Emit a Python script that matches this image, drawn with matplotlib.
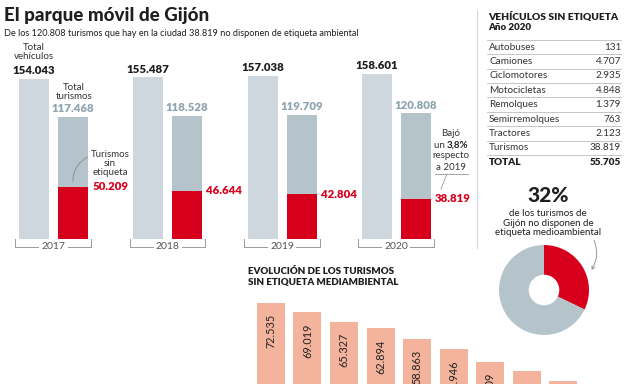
import matplotlib
matplotlib.use("Agg")
import matplotlib.pyplot as plt
from matplotlib.patches import FancyArrowPatch

plt.rcParams['font.family'] = ['Lato', 'DejaVu Sans']

# ---------------- data ----------------
years = ["2017", "2018", "2019", "2020"]
total_vehiculos = [154043, 155487, 157038, 158601]
total_turismos = [117468, 118528, 119709, 120808]
turismos_sin = [50209, 46644, 42804, 38819]

tabla_tipos = ["Autobuses", "Camiones", "Ciclomotores", "Motocicletas", "Remolques",
               "Semirremolques", "Tractores", "Turismos"]
tabla_valores = [131, 4707, 2935, 4848, 1379, 763, 2123, 38819]
tabla_total = 55705

donut_values = [38819, 120808 - 38819]

evol_years = ["2011", "2012", "2013", "2014", "2015", "2016", "2017", "2018", "2019"]
evol_values = [72535, 69019, 65327, 62894, 58863, 54946, 50209, 46644, 42804]

# ---------------- style ----------------
C_TOT = "#cdd7dd"
C_TUR = "#b5c3cb"
C_RED = "#d6001c"
C_SAL = "#f3b39d"
C_GRAYTXT = "#8da3b0"
C_DARK = "#1e1e1e"
C_TXT = "#333333"
C_LINE = "#bdbdbd"

W, H = 624, 384
fig = plt.figure(figsize=(W / 100, H / 100), dpi=100)
fig.patch.set_facecolor("white")


def rect(x0, ytop, w, h):
    return [x0 / W, 1 - (ytop + h) / H, w / W, h / H]


def fmt(v):
    return f"{v:,}".replace(",", ".")


# overlay axes in pixel coordinates for free text
bg = fig.add_axes([0, 0, 1, 1])
bg.set_xlim(0, W)
bg.set_ylim(H, 0)
bg.axis("off")
bg.set_zorder(5)
bg.patch.set_visible(False)

# ---------------- top bar chart ----------------
ax1 = fig.add_axes(rect(0, 52, 457, 201.5))
ax1.set_xlim(-0.468, 3.53)
ax1.set_ylim(-14000, 180000)
ax1.axis("off")
off = 0.17
bw = 0.2625
xs = list(range(len(years)))
ax1.bar([x - off for x in xs], total_vehiculos, width=bw, color=C_TOT, linewidth=0)
ax1.bar([x + off for x in xs], total_turismos, width=bw, color=C_TUR, linewidth=0)
ax1.bar([x + off for x in xs], turismos_sin, width=bw, color=C_RED, linewidth=0)

for i, x in enumerate(xs):
    ax1.annotate(fmt(total_vehiculos[i]), (x - off, total_vehiculos[i]), xytext=(0, 2),
                 textcoords="offset points", ha="center", va="bottom",
                 fontsize=8.2, fontweight="heavy", color=C_DARK)
    ax1.annotate(fmt(total_turismos[i]), (x + off, total_turismos[i]), xytext=(0, 2),
                 textcoords="offset points", ha="center", va="bottom",
                 fontsize=8.2, fontweight="heavy", color=C_GRAYTXT)
    ax1.annotate(fmt(turismos_sin[i]), (x + off + bw / 2, turismos_sin[i]), xytext=(3, 0),
                 textcoords="offset points", ha="left", va="center",
                 fontsize=8.2, fontweight="heavy", color=C_RED)
    # year bracket
    yb = -7700
    ax1.plot([x - 0.333, x - 0.333, x + 0.328, x + 0.328], [0, yb, yb, 0],
             color="#9a9a9a", lw=0.7, clip_on=False)
    ax1.text(x, yb, years[i], ha="center", va="center", fontsize=7.5, color="#555555",
             bbox=dict(facecolor="white", edgecolor="none", pad=1.5))

# annotations of first group
bg.text(34, 52, "Total\nvehículos", ha="center", va="center", fontsize=7, color=C_TXT,
        linespacing=1.05)
bg.text(74, 92, "Total\nturismos", ha="center", va="center", fontsize=7, color=C_TXT,
        linespacing=1.05)
bg.text(110, 163.5, "Turismos\nsin\netiqueta", ha="center", va="center", fontsize=7,
        color=C_TXT, linespacing=1.05)
bg.add_patch(FancyArrowPatch((90, 156), (73, 184), arrowstyle="-",
                             connectionstyle="arc3,rad=0.35", color="#888888", lw=0.6))

# callout 2020
bg.text(451, 134, "Bajó", ha="center", va="center", fontsize=7, color=C_TXT)
bg.text(447, 145, "un ", ha="right", va="center", fontsize=7, color=C_TXT)
bg.text(447, 145, "3,8%", ha="left", va="center", fontsize=7, color=C_DARK,
        fontweight="bold")
bg.text(451, 156, "respecto", ha="center", va="center", fontsize=7, color=C_TXT)
bg.text(451, 167, "a 2019", ha="center", va="center", fontsize=7, color=C_TXT)
bg.plot([435, 468], [174, 174], color="#999999", lw=0.6)
bg.plot([447, 441], [174, 189], color="#999999", lw=0.6)

# titles
bg.text(4, 15, "El parque móvil de Gijón", ha="left", va="center", fontsize=13.5,
        fontweight="black", color=C_DARK)
bg.text(4, 33, "De los 120.808 turismos que hay en la ciudad 38.819 no disponen de etiqueta ambiental",
        ha="left", va="center", fontsize=6.6, color=C_DARK)

# separator
bg.plot([477, 477], [10, 248], color="#d0d0d0", lw=0.7)

# ---------------- table ----------------
bg.text(488, 17, "VEHÍCULOS SIN ETIQUETA", ha="left", va="center", fontsize=7.4,
        fontweight="heavy", color=C_DARK)
bg.text(488, 28, "Año 2020", ha="left", va="center", fontsize=7, fontweight="heavy",
        color=C_DARK)
row0, step = 47, 14.4
bg.plot([487, 621], [39.8, 39.8], color=C_LINE, lw=0.6)
for i, (t, v) in enumerate(zip(tabla_tipos, tabla_valores)):
    yy = row0 + i * step
    bg.text(489, yy, t, ha="left", va="center", fontsize=7.2, color=C_TXT)
    bg.text(621, yy, fmt(v), ha="right", va="center", fontsize=7.2, color=C_TXT)
    bg.plot([487, 621], [yy + step / 2, yy + step / 2], color=C_LINE, lw=0.6)
yy = row0 + len(tabla_tipos) * step
bg.text(489, yy, "TOTAL", ha="left", va="center", fontsize=7.2, fontweight="heavy",
        color=C_DARK)
bg.text(621, yy, fmt(tabla_total), ha="right", va="center", fontsize=7.2,
        fontweight="heavy", color=C_DARK)

# ---------------- donut ----------------
pct = round(100 * donut_values[0] / sum(donut_values))
bg.text(548, 196, f"{pct}%", ha="center", va="center", fontsize=15, fontweight="black",
        color=C_DARK)
bg.text(548, 223, "de los turismos de\nGijón no disponen de\netiqueta medioambiental",
        ha="center", va="center", fontsize=7, color=C_DARK, linespacing=1.05)
ax3 = fig.add_axes(rect(499, 245, 90, 90))
ax3.pie(donut_values, startangle=90, counterclock=False, colors=[C_RED, C_TUR],
        wedgeprops=dict(width=0.66, edgecolor="none"))
ax3.set_xlim(-1, 1)
ax3.set_ylim(-1, 1)
ax3.set_aspect("equal")
bg.add_patch(FancyArrowPatch((593, 238), (590, 272), arrowstyle="->,head_length=2,head_width=1.2",
                             connectionstyle="arc3,rad=-0.3", color="#888888", lw=0.6))

# ---------------- bottom bar chart ----------------
bg.text(248, 271, "EVOLUCIÓN DE LOS TURISMOS", ha="left", va="center", fontsize=7,
        fontweight="heavy", color=C_DARK)
bg.text(248, 283, "SIN ETIQUETA MEDIAMBIENTAL", ha="left", va="center", fontsize=7,
        fontweight="heavy", color=C_DARK)
ax4 = fig.add_axes(rect(240, 290, 384, 203.3))
ax4.set_xlim(-0.849, 9.67)
ax4.set_ylim(0, 77490)
ax4.axis("off")
ex = list(range(len(evol_values)))
ax4.bar(ex, evol_values, width=0.767, color=C_SAL, linewidth=0)
for i, v in zip(ex, evol_values):
    ax4.annotate(fmt(v), (i, v), xytext=(0, -8), textcoords="offset points",
                 ha="center", va="top", rotation=90, fontsize=7.8, color=C_DARK)

fig.savefig("out.png", dpi=100)
